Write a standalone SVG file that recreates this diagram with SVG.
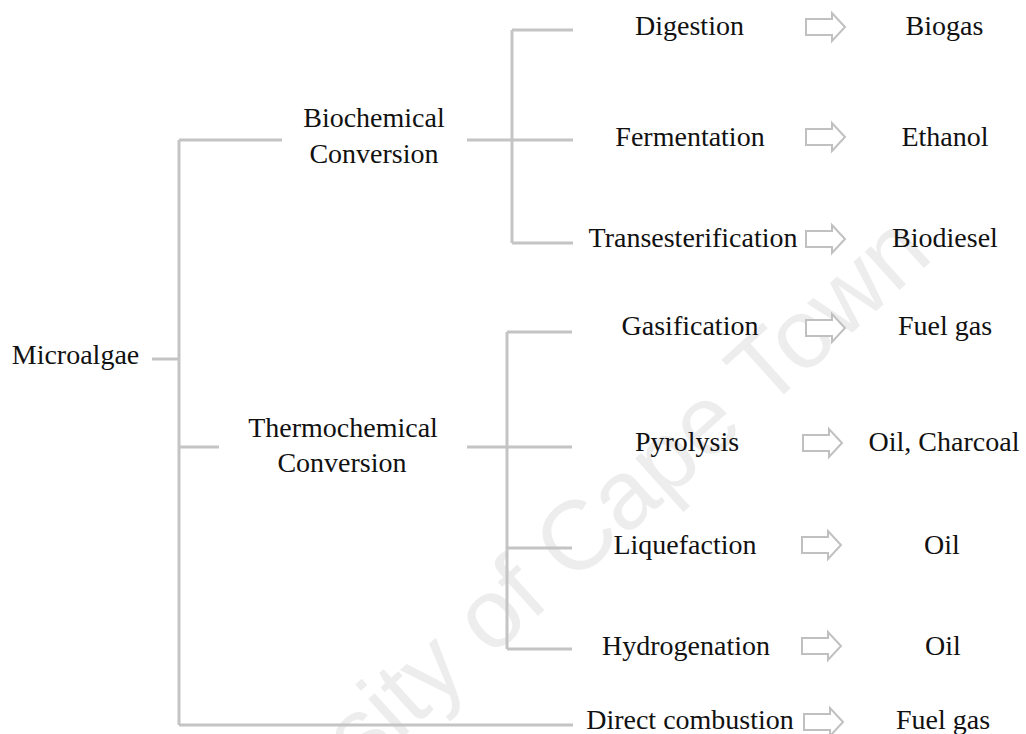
<svg xmlns="http://www.w3.org/2000/svg" width="1026" height="734" viewBox="0 0 1026 734">
<style>
  .t{font-family:"Liberation Serif","Times New Roman",serif;font-size:28px;fill:#111;text-anchor:middle}
  .ln{stroke:#c4c4c4;stroke-width:3;fill:none;stroke-linecap:butt}
  .ar{stroke:#c0c0c0;stroke-width:2;fill:#fff;stroke-linejoin:miter}
  .wm{font-family:"Liberation Sans",Arial,sans-serif;font-size:98px;fill:#ededed;text-anchor:middle}
</style>
<defs>
  <path id="arrow" class="ar" d="M0,-8 H26 V-14 L39,0 L26,14 V8 H0 Z"/>
</defs>
<rect width="1026" height="734" fill="#fff"/>
<text class="wm" x="543" y="611" transform="rotate(-42 543 611)">University of Cape Town</text>
<g id="connectors">
  <path class="ln" d="M152,359 H179"/>
  <path class="ln" d="M179,140 V725"/>
  <path class="ln" d="M179,140 H282"/>
  <path class="ln" d="M179,447 H219"/>
  <path class="ln" d="M179,725 H573"/>
  <path class="ln" d="M467,140 H512"/>
  <path class="ln" d="M512,30 V243"/>
  <path class="ln" d="M512,30 H573 M512,140 H573 M512,243 H573"/>
  <path class="ln" d="M467,447 H507"/>
  <path class="ln" d="M507,332 V649"/>
  <path class="ln" d="M507,332 H572 M507,447 H572 M507,548 H572 M507,649 H572"/>
  <use href="#arrow" x="806" y="27"/>
  <use href="#arrow" x="806" y="137"/>
  <use href="#arrow" x="806" y="239"/>
  <use href="#arrow" x="806" y="328"/>
  <use href="#arrow" x="803" y="443"/>
  <use href="#arrow" x="802" y="545"/>
  <use href="#arrow" x="802" y="646"/>
  <use href="#arrow" x="804" y="722"/>
</g>
<g id="microalgae"><text class="t" x="75.5" y="364">Microalgae</text></g>
<g id="biochemical"><text class="t" x="374" y="127">Biochemical</text><text class="t" x="374" y="163">Conversion</text></g>
<g id="thermochemical"><text class="t" x="343" y="437">Thermochemical</text><text class="t" x="342" y="472">Conversion</text></g>
<g id="digestion"><text class="t" x="689.5" y="35">Digestion</text></g>
<g id="fermentation"><text class="t" x="690" y="146">Fermentation</text></g>
<g id="transesterification"><text class="t" x="693" y="247">Transesterification</text></g>
<g id="gasification"><text class="t" x="690" y="335">Gasification</text></g>
<g id="pyrolysis"><text class="t" x="687" y="451">Pyrolysis</text></g>
<g id="liquefaction"><text class="t" x="685" y="554">Liquefaction</text></g>
<g id="hydrogenation"><text class="t" x="686" y="655">Hydrogenation</text></g>
<g id="direct-combustion"><text class="t" x="690" y="729">Direct combustion</text></g>
<g id="biogas"><text class="t" x="944.5" y="35">Biogas</text></g>
<g id="ethanol"><text class="t" x="945" y="146">Ethanol</text></g>
<g id="biodiesel"><text class="t" x="945" y="247">Biodiesel</text></g>
<g id="fuel-gas-1"><text class="t" x="945" y="335">Fuel gas</text></g>
<g id="oil-charcoal"><text class="t" x="944" y="451">Oil, Charcoal</text></g>
<g id="oil-1"><text class="t" x="942" y="554">Oil</text></g>
<g id="oil-2"><text class="t" x="943" y="655">Oil</text></g>
<g id="fuel-gas-2"><text class="t" x="943" y="729">Fuel gas</text></g>
</svg>
